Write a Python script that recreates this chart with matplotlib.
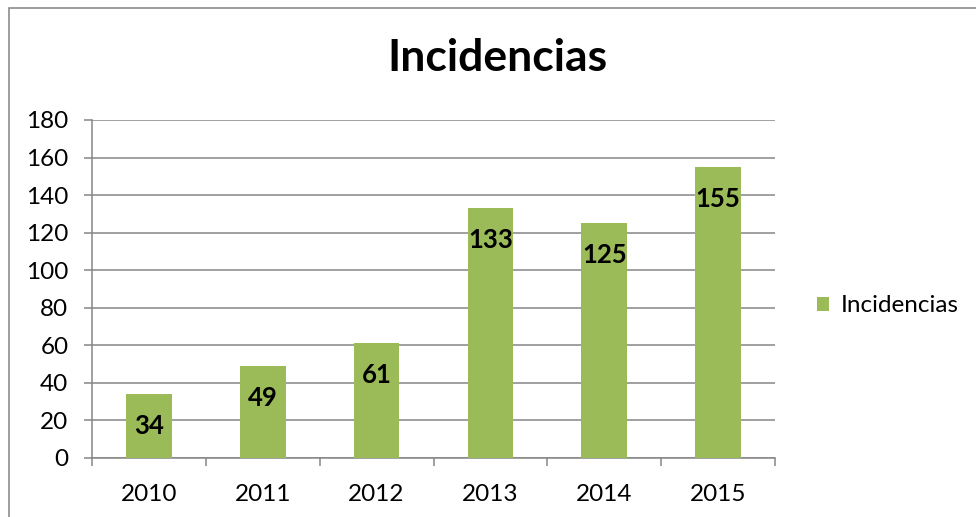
import matplotlib
matplotlib.use("Agg")
import matplotlib.pyplot as plt
from matplotlib.patches import Rectangle

years = ["2010", "2011", "2012", "2013", "2014", "2015"]
values = [34, 49, 61, 133, 125, 155]
series_name = "Incidencias"
title = "Incidencias"
yticks = [0, 20, 40, 60, 80, 100, 120, 140, 160, 180]

plt.rcParams['font.family'] = ['Lato', 'DejaVu Sans']

W, H = 976, 517
fig = plt.figure(figsize=(W / 100, H / 100), dpi=100)

# outer chart border
fig.patches.append(Rectangle((9 / W, -0.05), (W - 9 + 10) / W, 1.05 - 8 / H,
                             transform=fig.transFigure, fill=False,
                             edgecolor="#8c8c8c", linewidth=1.2))

ax = fig.add_axes([92 / W, 59 / H, 683 / W, 338 / H])
grid_c = "#868686"
x = list(range(len(years)))
bars = ax.bar(x, values, width=0.4, color="#9BBB59", zorder=3, label=series_name)

ax.set_xlim(-0.5, len(years) - 0.5)
ax.set_ylim(0, 180)
ax.set_yticks(yticks)
ax.yaxis.grid(True, color=grid_c, linewidth=1.1, zorder=0)
for s in ["top", "right"]:
    ax.spines[s].set_visible(False)
for s in ["left", "bottom"]:
    ax.spines[s].set_color(grid_c)
    ax.spines[s].set_linewidth(1.1)

ax.set_xticks([i - 0.5 for i in range(len(years) + 1)])
ax.set_xticklabels([])
ax.set_xticks(x, minor=True)
ax.set_xticklabels(years, minor=True, fontsize=17.5)
ax.tick_params(axis="x", which="major", length=6, color=grid_c, width=1.1)
ax.tick_params(axis="x", which="minor", length=0, pad=19)
ax.tick_params(axis="y", length=6, color=grid_c, width=1.1, labelsize=17.5, pad=11)

for b, v in zip(bars, values):
    ax.annotate(str(v), (b.get_x() + b.get_width() / 2, v), xytext=(0, -23),
                textcoords="offset points", ha="center", va="center",
                fontsize=18.5, fontweight="bold", zorder=4)

fig.text(497 / W, 1 - 58 / H, title, ha="center", va="center",
         fontsize=32, fontweight="bold")

fig.legend(handles=[bars], labels=[series_name], loc="center left",
           bbox_to_anchor=(795 / W, 1 - 306 / H), frameon=False,
           fontsize=17.5, handlelength=0.5, handleheight=0.5, handletextpad=0.5)

fig.savefig("out.png", dpi=100)
